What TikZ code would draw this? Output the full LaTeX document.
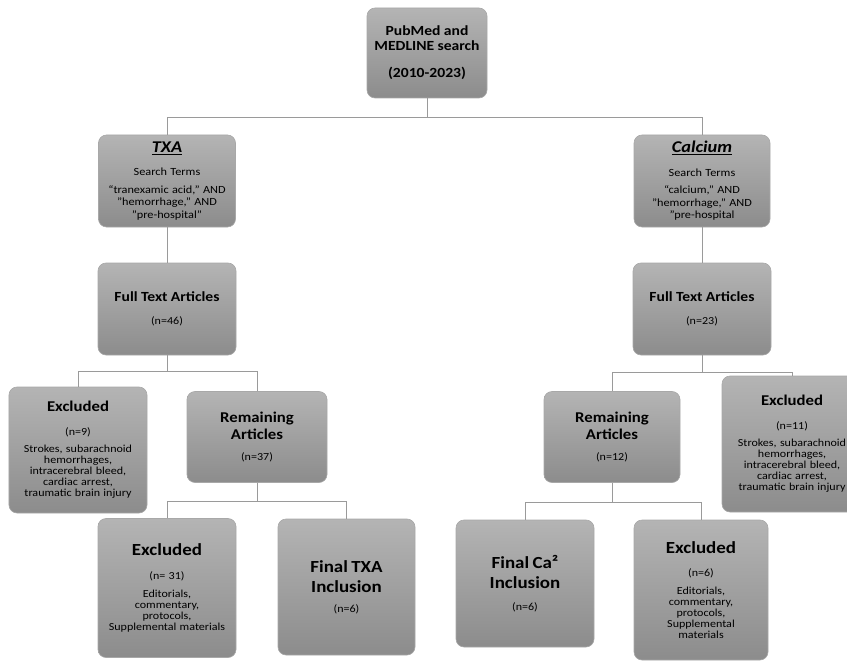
\documentclass[tikz,border=0pt]{standalone}
\usepackage{fontspec}
\setmainfont{Carlito}[FakeStretch=1.12]
\begin{document}
\begin{tikzpicture}[x=1bp,y=-1bp,
  box/.style={rectangle, rounded corners=8bp, top color=boxtop, bottom color=boxbot,
    draw=boxedge, line width=0.6bp, align=center, text width=132bp, inner sep=2bp, text=black},
  conn/.style={draw=linegray, line width=1bp}]
\definecolor{boxtop}{HTML}{B4B4B4}
\definecolor{boxbot}{HTML}{8C8C8C}
\definecolor{boxedge}{HTML}{A8A8A8}
\definecolor{linegray}{HTML}{9A9A9A}
\useasboundingbox (0,0) rectangle (847,662);
\newcommand{\bigtxt}[1]{{\fontsize{17}{20}\selectfont\bfseries #1\par}}
\newcommand{\midtxt}[1]{{\fontsize{15}{17}\selectfont\bfseries #1\par}}
\newcommand{\ftxt}[1]{{\fontsize{14}{16}\selectfont\bfseries #1\par}}
\newcommand{\smtxt}[1]{{\fontsize{10.8}{11}\selectfont #1\par}}
\newcommand{\srch}[1]{{\fontsize{11}{12.5}\selectfont #1\par}}
\newcommand{\gap}[1]{\vspace{#1bp}}

\node[box, text width=116bp, minimum width=120bp, minimum height=90bp] (top) at (427,53)
  {{\fontsize{14}{15}\selectfont\bfseries PubMed and\\ MEDLINE search\par}\gap{12}
   {\fontsize{14}{15}\selectfont\bfseries (2010-2023)\par}};

\node[box, minimum width=137bp, minimum height=92bp] (txa) at (167,181)
  {{\fontsize{16.5}{17}\selectfont\bfseries\itshape\underline{TXA}\par}\gap{11}
   \srch{Search Terms}\gap{5}
   \srch{“tranexamic acid," AND\\ "hemorrhage," AND\\ "pre-hospital"}};
\node[box, minimum width=136bp, minimum height=92bp] (ca) at (702,181)
  {{\fontsize{16.5}{17}\selectfont\bfseries\itshape\underline{Calcium}\par}\gap{11}
   \srch{Search Terms}\gap{5}
   \srch{“calcium," AND\\ "hemorrhage," AND\\ "pre-hospital}};

\node[box, minimum width=138bp, minimum height=92bp] (ft1) at (167,309)
  {\ftxt{Full Text Articles}\gap{12}\smtxt{(n=46)}};
\node[box, minimum width=138bp, minimum height=92bp] (ft2) at (702,309)
  {\ftxt{Full Text Articles}\gap{12}\smtxt{(n=23)}};

\node[box, minimum width=138bp, minimum height=126bp] (ex1) at (78,450)
  {\midtxt{Excluded}\gap{13}\smtxt{(n=9)}\gap{6}
   \smtxt{Strokes, subarachnoid\\ hemorrhages,\\ intracerebral bleed,\\ cardiac arrest,\\ traumatic brain injury}};
\node[box, minimum width=140bp, minimum height=91bp] (rem1) at (257,437)
  {\midtxt{Remaining\\ Articles}\gap{10}\smtxt{(n=37)}};

\node[box, minimum width=136bp, minimum height=91bp] (rem2) at (612,437)
  {\midtxt{Remaining\\ Articles}\gap{10}\smtxt{(n=12)}};
\node[box, minimum width=140bp, minimum height=136bp] (ex2) at (792,444)
  {\midtxt{Excluded}\gap{13}\smtxt{(n=11)}\gap{6}
   \smtxt{Strokes, subarachnoid\\ hemorrhages,\\ intracerebral bleed,\\ cardiac arrest,\\ traumatic brain injury}};

\node[box, minimum width=138bp, minimum height=139bp] (ex3) at (167,588)
  {\bigtxt{Excluded}\gap{13}\smtxt{(n= 31)}\gap{7}
   \smtxt{Editorials,\\ commentary,\\ protocols,\\ Supplemental materials}};
\node[box, minimum width=137bp, minimum height=136bp] (fin1) at (346.5,587)
  {\bigtxt{Final TXA\\ Inclusion}\gap{9}\smtxt{(n=6)}};

\node[box, minimum width=138bp, minimum height=127bp] (fin2) at (525,583.5)
  {\bigtxt{Final Ca²\\ Inclusion}\gap{11}\smtxt{(n=6)}};
\node[box, minimum width=134bp, text width=128bp, minimum height=140bp] (ex4) at (701,590)
  {\bigtxt{Excluded}\gap{13}\smtxt{(n=6)}\gap{7}
   \smtxt{Editorials,\\ commentary,\\ protocols,\\ Supplemental\\ materials}};

\draw[conn] (top.south) -- ++(0,19) -| (txa.north);
\draw[conn] (top.south) -- ++(0,19) -| (ca.north);
\draw[conn] (txa.south) -- (ft1.north);
\draw[conn] (ca.south) -- (ft2.north);
\draw[conn] (ft1.south) -- ++(0,16) -| (ex1.north);
\draw[conn] (ft1.south) -- ++(0,16) -| (rem1.north);
\draw[conn] (ft2.south) -- ++(0,17) -| (rem2.north);
\draw[conn] (ft2.south) -- ++(0,17) -| (ex2.north);
\draw[conn] (rem1.south) -- ++(0,19) -| (ex3.north);
\draw[conn] (rem1.south) -- ++(0,19) -| (fin1.north);
\draw[conn] (rem2.south) -- ++(0,20) -| (fin2.north);
\draw[conn] (rem2.south) -- ++(0,20) -| (ex4.north);
\end{tikzpicture}
\end{document}
